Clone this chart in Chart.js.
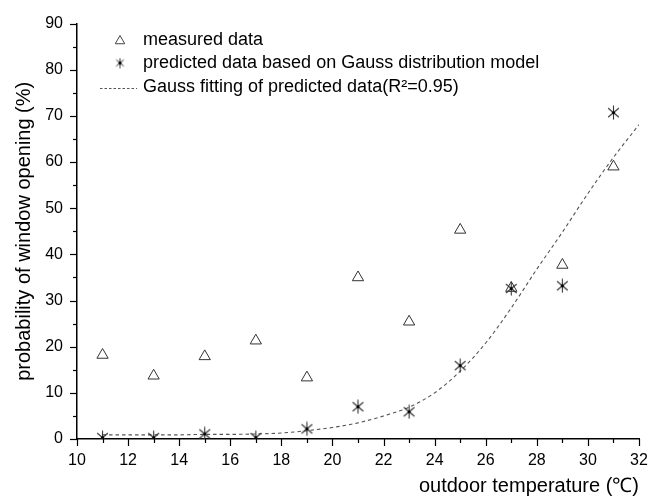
<!DOCTYPE html>
<html>
<head>
<meta charset="utf-8">
<script src="https://cdn.jsdelivr.net/npm/chart.js@4.4.1/dist/chart.umd.min.js"></script>
<style>
  html, body { margin: 0; padding: 0; background: #fff; }
  #wrap { width: 648px; height: 498px; }
</style>
</head>
<body>
<div id="wrap"><canvas id="myChart"></canvas></div>
<script>
// temperatures (°C) where both series were sampled
const temperatures = [11, 13, 15, 17, 19, 21, 23, 25, 27, 29, 31];
// measured probability of window opening (%)
const measured = [18.2, 13.7, 17.9, 21.3, 13.3, 35.0, 25.4, 45.3, 32.7, 37.7, 59.0];
// predicted by the Gauss distribution model (%)
const predicted = [0.3, 0.3, 1.1, 0.3, 2.2, 7.0, 5.9, 15.9, 32.6, 33.2, 70.7];
// dashed Gauss fitting curve
const fitTemps = [11, 12, 13, 14, 15, 16, 17, 18, 19, 20, 21, 22, 23, 24, 25, 26, 27, 28, 29, 30, 31, 32];
const fitValues = [0.9, 0.9, 0.9, 0.9, 1.0, 1.0, 1.1, 1.3, 1.8, 2.5, 3.5, 5.0, 6.9, 10.0, 14.7, 20.8, 28.4, 36.8, 44.8, 53.2, 61.0, 68.1];

const legendLabels = [
    'measured data',
    'predicted data based on Gauss distribution model',
    'Gauss fitting of predicted data(R\u00b2=0.95)'
];
const xTitle = 'outdoor temperature (\u2103)';
const yTitle = 'probability of window opening (%)';

const FONT = '"Liberation Sans", Arial, sans-serif';
const markColor = '#333';

// asterisk marker (vertical bar + X, dark dot in the middle)
function makeAsterisk(size, lw) {
    const c = document.createElement('canvas');
    c.width = size; c.height = size;
    const g = c.getContext('2d');
    const m = size / 2, r = size / 2 - 0.5;
    g.strokeStyle = markColor;
    g.lineWidth = lw;
    [90, 40, 140].forEach(function(deg) {
        const a = deg * Math.PI / 180;
        g.beginPath();
        g.moveTo(m - Math.cos(a) * r, m - Math.sin(a) * r);
        g.lineTo(m + Math.cos(a) * r, m + Math.sin(a) * r);
        g.stroke();
    });
    g.fillStyle = '#000';
    g.beginPath();
    g.arc(m, m, 1.6, 0, Math.PI * 2);
    g.fill();
    return c;
}
const asterisk = makeAsterisk(15, 1.1);
const asteriskSmall = makeAsterisk(11, 1);

// major / minor tick marks pointing outwards
const tickMarks = {
    id: 'tickMarks',
    afterDraw(chart) {
        const ctx = chart.ctx;
        const x = chart.scales.x, y = chart.scales.y;
        ctx.save();
        ctx.strokeStyle = '#000';
        ctx.lineWidth = 1.2;
        for (let v = 0; v <= 90; v += 5) {
            const p = Math.round(y.getPixelForValue(v)) + 0.5;
            const len = v % 10 === 0 ? 7 : 4;
            ctx.beginPath();
            ctx.moveTo(x.left - len, p);
            ctx.lineTo(x.left, p);
            ctx.stroke();
        }
        for (let v = 10; v <= 32; v += 1) {
            const p = Math.round(x.getPixelForValue(v)) + 0.5;
            const len = v % 2 === 0 ? 7 : 4;
            ctx.beginPath();
            ctx.moveTo(p, y.bottom);
            ctx.lineTo(p, y.bottom + len);
            ctx.stroke();
        }
        ctx.restore();
    }
};

// legend inside the plot, top left
const insideLegend = {
    id: 'insideLegend',
    afterDraw(chart) {
        const ctx = chart.ctx;
        ctx.save();
        ctx.font = '18px ' + FONT;
        ctx.textBaseline = 'middle';
        ctx.textAlign = 'left';
        const tx = 143;
        const rows = [40, 63, 87];

        ctx.strokeStyle = '#444';
        ctx.fillStyle = 'rgba(0,0,0,0)';
        ctx.lineWidth = 1;
        Chart.helpers.drawPoint(ctx, { pointStyle: 'triangle', radius: 5.5, borderWidth: 1 }, 120, rows[0] + 1);
        ctx.drawImage(asteriskSmall, 120 - 5.5, rows[1] - 5.5);

        ctx.setLineDash([2.5, 2]);
        ctx.strokeStyle = '#555';
        ctx.beginPath();
        ctx.moveTo(100, rows[2] + 1.5);
        ctx.lineTo(137, rows[2] + 1.5);
        ctx.stroke();
        ctx.setLineDash([]);

        ctx.fillStyle = '#000';
        legendLabels.forEach(function(t, i) {
            ctx.fillText(t, tx, rows[i]);
        });
        ctx.restore();
    }
};

const ctx = document.getElementById('myChart').getContext('2d');
const chart = new Chart(ctx, {
    type: 'scatter',
    data: {
        datasets: [{
            label: legendLabels[2],
            data: fitTemps.map((t, i) => ({ x: t, y: fitValues[i] })),
            showLine: true,
            borderColor: '#555',
            borderWidth: 1.1,
            borderDash: [3.5, 3],
            pointRadius: 0,
            cubicInterpolationMode: 'monotone',
            order: 3
        }, {
            label: legendLabels[0],
            data: temperatures.map((t, i) => ({ x: t, y: measured[i] })),
            pointStyle: 'triangle',
            pointRadius: 6.5,
            pointBorderWidth: 1,
            borderColor: markColor,
            backgroundColor: 'rgba(0,0,0,0)',
            clip: { left: 10, right: 10, top: 10, bottom: 0 },
            order: 2
        }, {
            label: legendLabels[1],
            data: temperatures.map((t, i) => ({ x: t, y: predicted[i] })),
            pointStyle: asterisk,
            pointRadius: 7,
            clip: { left: 10, right: 10, top: 10, bottom: 0 },
            order: 1
        }]
    },
    options: {
        animation: false,
        responsive: true,
        maintainAspectRatio: false,
        layout: { padding: { top: 20, right: 9, bottom: 0, left: 0 } },
        plugins: {
            legend: { display: false },
            tooltip: { enabled: false }
        },
        scales: {
            x: {
                type: 'linear',
                min: 10,
                max: 32,
                afterFit: function(scale) {
                    scale.height = 59;
                    scale.paddingLeft = 0;
                    scale.paddingRight = 0;
                },
                grid: { display: false, drawTicks: false },
                border: { display: true, color: '#000', width: 1.5 },
                ticks: {
                    stepSize: 2,
                    padding: 12,
                    color: '#000',
                    font: { family: FONT, size: 16 }
                },
                title: {
                    display: true,
                    text: xTitle,
                    align: 'end',
                    color: '#000',
                    padding: { top: 0, bottom: 0 },
                    font: { family: FONT, size: 20 }
                }
            },
            y: {
                type: 'linear',
                min: 0,
                max: 90,
                afterFit: function(scale) { scale.width = 77; },
                grid: { display: false, drawTicks: false },
                border: { display: true, color: '#000', width: 1.5 },
                ticks: {
                    stepSize: 10,
                    padding: 14,
                    color: '#000',
                    font: { family: FONT, size: 16 }
                },
                title: {
                    display: true,
                    text: yTitle,
                    color: '#000',
                    padding: { top: 12, bottom: 0 },
                    font: { family: FONT, size: 20 }
                }
            }
        }
    },
    plugins: [tickMarks, insideLegend]
});
</script>
</body>
</html>
